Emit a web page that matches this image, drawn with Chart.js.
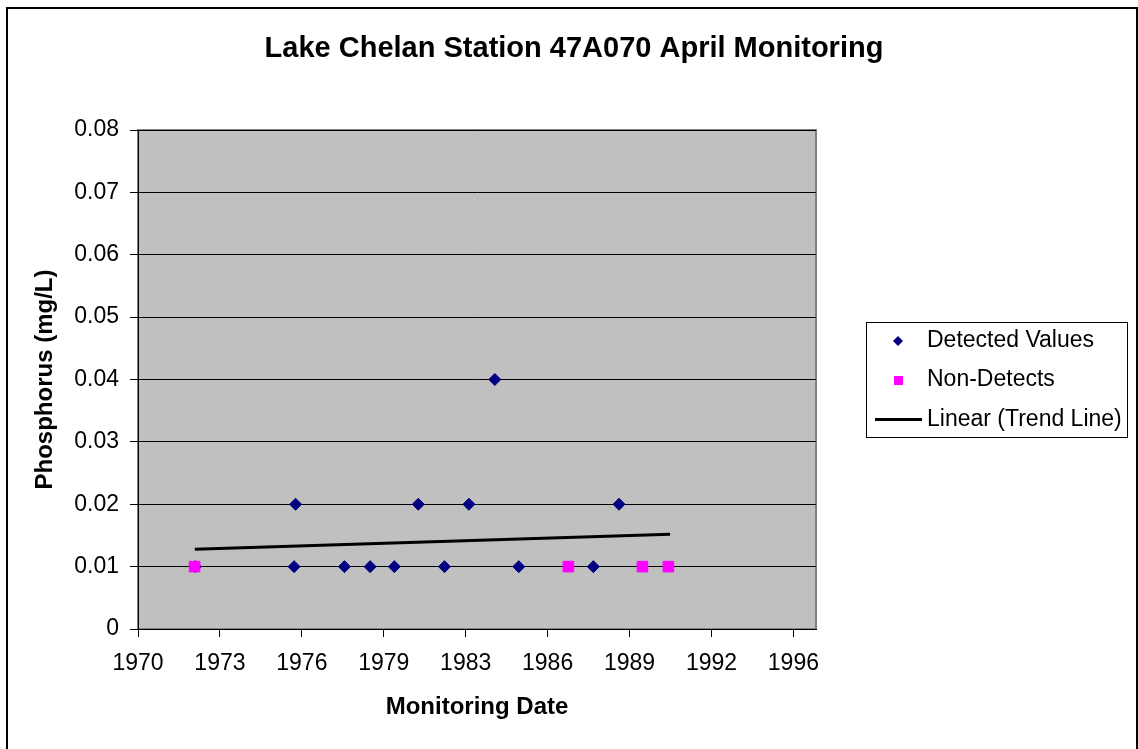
<!DOCTYPE html>
<html>
<head>
    <title>Lake Chelan Station 47A070 April Monitoring</title>
    <script src="https://cdn.jsdelivr.net/npm/chart.js@4.4.0/dist/chart.umd.min.js"></script>
    <style>
        body { margin: 0; background: #fff; }
    </style>
</head>
<body>
<canvas id="myChart" width="1138" height="749"></canvas>

<script>
// April samples, dates as decimal years
const detectedYears  = [1972.30, 1976.32, 1976.26, 1978.28, 1979.31, 1980.28, 1981.24, 1982.29, 1983.27, 1984.31, 1985.27, 1988.26, 1989.29];
const detectedValues = [0.01,    0.02,    0.01,    0.01,    0.01,    0.01,    0.02,    0.01,    0.02,    0.04,    0.01,    0.01,    0.02];

const nonDetectYears  = [1972.27, 1987.26, 1990.23, 1991.27];
const nonDetectValues = [0.01,    0.01,    0.01,    0.01];

// linear trend, start and end
const trendYears  = [1972.28, 1991.34];
const trendValues = [0.01278, 0.01518];

const xTickLabels = ['1970', '1973', '1976', '1979', '1983', '1986', '1989', '1992', '1996'];
const yTickLabels = ['0', '0.01', '0.02', '0.03', '0.04', '0.05', '0.06', '0.07', '0.08'];

const xStart = 1970;
const xStep = 1200 / 365.25;   // excel date axis, 1200 day major unit

function toPoints(xs, ys) {
    return xs.map((x, i) => ({x: x, y: ys[i]}));
}

Chart.defaults.font.family = '"Liberation Sans", Arial, sans-serif';
Chart.defaults.color = '#000';

// grey plot area, outer frame, title and legend
const excelLook = {
    id: 'excelLook',
    beforeDraw(chart) {
        const ctx = chart.ctx;
        const a = chart.chartArea;
        ctx.save();
        ctx.fillStyle = '#fff';
        ctx.fillRect(0, 0, chart.width, chart.height);
        ctx.fillStyle = '#C0C0C0';
        ctx.fillRect(a.left, a.top, a.right - a.left, a.bottom - a.top);
        ctx.strokeStyle = '#808080';
        ctx.lineWidth = 2;
        ctx.strokeRect(a.left, a.top, a.right - a.left, a.bottom - a.top);
        ctx.restore();
    },
    afterDraw(chart) {
        const ctx = chart.ctx;
        const ds = chart.data.datasets;
        ctx.save();
        // chart frame
        ctx.strokeStyle = '#000';
        ctx.lineWidth = 2;
        ctx.strokeRect(7, 8, 1130, 745);

        // title
        ctx.fillStyle = '#000';
        ctx.font = 'bold 29px "Liberation Sans", Arial, sans-serif';
        ctx.textAlign = 'center';
        ctx.textBaseline = 'middle';
        ctx.fillText('Lake Chelan Station 47A070 April Monitoring', 574, 49);

        // legend
        ctx.lineWidth = 1;
        ctx.strokeRect(866.5, 322.5, 261, 115);
        ctx.font = '23px "Liberation Sans", Arial, sans-serif';
        ctx.textAlign = 'left';
        const rows = [341, 380, 419.5];
        ds.forEach((d, i) => {
            const y = rows[i];
            if (d.type === 'line') {
                ctx.strokeStyle = d.borderColor;
                ctx.lineWidth = 3;
                ctx.beginPath();
                ctx.moveTo(875, y);
                ctx.lineTo(922, y);
                ctx.stroke();
            } else {
                ctx.fillStyle = d.backgroundColor;
                ctx.beginPath();
                if (d.pointStyle === 'rect') {
                    ctx.rect(894, y - 4, 9, 9);
                } else {
                    ctx.moveTo(898, y - 5); ctx.lineTo(903, y); ctx.lineTo(898, y + 5); ctx.lineTo(893, y);
                    ctx.closePath();
                }
                ctx.fill();
            }
            ctx.fillStyle = '#000';
            ctx.fillText(d.label, 927, y);
        });
        ctx.restore();
    }
};

new Chart('myChart', {
    type: 'scatter',
    data: {
        datasets: [{
            label: 'Detected Values',
            data: toPoints(detectedYears, detectedValues),
            pointStyle: 'rectRot',
            pointRadius: 6,
            pointHoverRadius: 6,
            backgroundColor: '#000080',
            borderColor: '#000080',
            borderWidth: 1,
            order: 2
        }, {
            label: 'Non-Detects',
            data: toPoints(nonDetectYears, nonDetectValues),
            pointStyle: 'rect',
            pointRadius: 7.5,
            pointHoverRadius: 7.5,
            backgroundColor: '#FF00FF',
            borderColor: '#FF00FF',
            borderWidth: 1,
            order: 1
        }, {
            type: 'line',
            label: 'Linear (Trend Line)',
            data: toPoints(trendYears, trendValues),
            borderColor: '#000',
            backgroundColor: '#000',
            borderWidth: 3,
            pointRadius: 0,
            fill: false,
            order: 3
        }]
    },
    options: {
        responsive: false,
        animation: false,
        events: [],
        layout: {padding: {left: 0, right: 322, top: 130, bottom: 0}},
        plugins: {
            legend: {display: false},
            title: {display: false},
            tooltip: {enabled: false}
        },
        scales: {
            x: {
                type: 'linear',
                min: xStart,
                max: 1997.19,
                afterBuildTicks(axis) {
                    axis.ticks = xTickLabels.map((_, i) => ({value: xStart + i * xStep}));
                },
                afterFit(axis) { axis.height = 120; },
                ticks: {
                    font: {size: 23},
                    color: '#000',
                    padding: 13,
                    maxRotation: 0,
                    autoSkip: false,
                    callback: (v, i) => xTickLabels[i]
                },
                grid: {drawOnChartArea: false, drawTicks: true, tickLength: 8, color: '#000'},
                border: {color: '#000', width: 1},
                title: {
                    display: true,
                    text: 'Monitoring Date',
                    font: {size: 24, weight: 'bold'},
                    color: '#000',
                    padding: {top: 0, bottom: 27}
                }
            },
            y: {
                min: 0,
                max: 0.08,
                afterBuildTicks(axis) {
                    axis.ticks = yTickLabels.map(t => ({value: parseFloat(t)}));
                },
                afterFit(axis) { axis.width = 138; },
                ticks: {
                    font: {size: 23},
                    color: '#000',
                    padding: 11,
                    callback: (v, i) => yTickLabels[i]
                },
                grid: {color: '#000', lineWidth: 1, tickLength: 8, drawTicks: true},
                border: {color: '#000', width: 1},
                title: {
                    display: true,
                    text: 'Phosphorus (mg/L)',
                    font: {size: 24, weight: 'bold'},
                    color: '#000',
                    padding: {top: 31, bottom: 0}
                }
            }
        }
    },
    plugins: [excelLook]
});
</script>
</body>
</html>
